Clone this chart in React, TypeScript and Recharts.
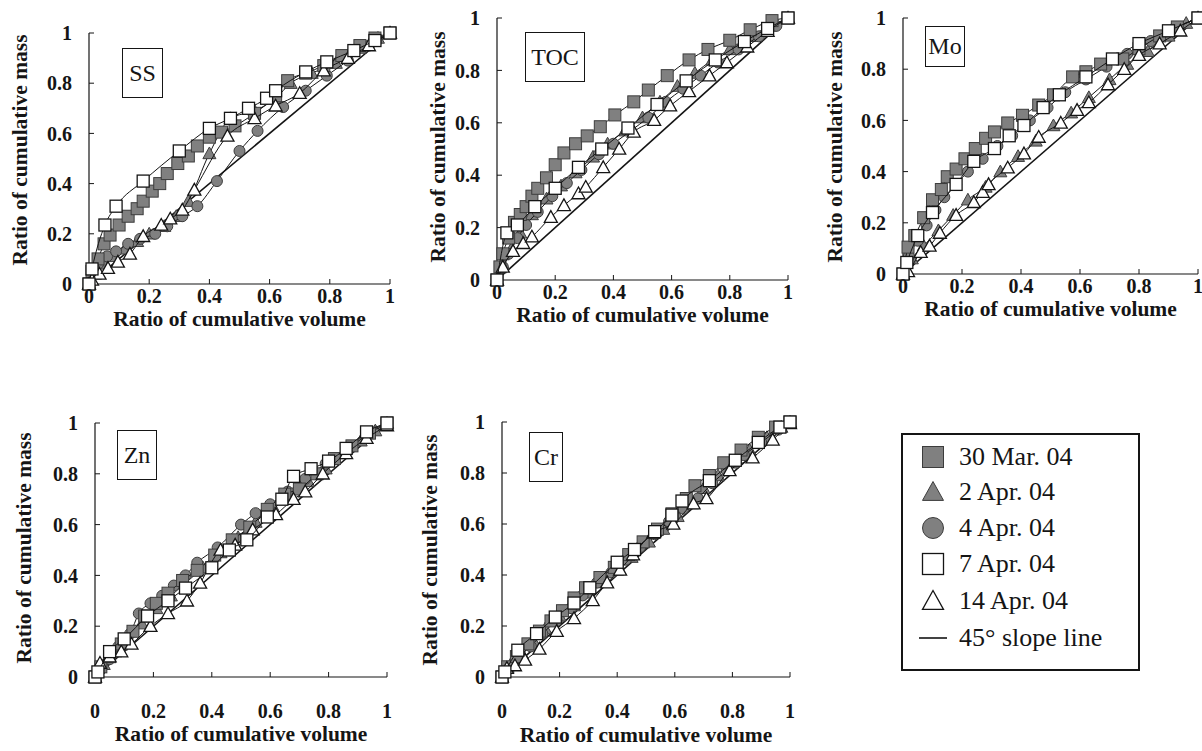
import React from 'react';
import { ScatterChart, Scatter, XAxis, YAxis, ReferenceLine } from 'recharts';

type Pt = [number, number];

const TICKS = [0, 0.2, 0.4, 0.6, 0.8, 1];
const SERIES_NAMES = ['30 Mar. 04', '2 Apr. 04', '4 Apr. 04', '7 Apr. 04', '14 Apr. 04'];
const SLOPE_LINE: Pt[] = [[0, 0], [1, 1]];

// SS
const ssMar30: Pt[] = [[0, 0], [0.01, 0.05], [0.03, 0.1], [0.05, 0.16], [0.07, 0.195], [0.1, 0.235], [0.13, 0.27], [0.16, 0.3], [0.18, 0.33], [0.21, 0.37], [0.235, 0.4], [0.26, 0.44], [0.295, 0.48], [0.33, 0.51], [0.36, 0.55], [0.4, 0.585], [0.44, 0.605], [0.485, 0.63], [0.55, 0.68], [0.62, 0.75], [0.66, 0.81], [0.72, 0.84], [0.78, 0.87], [0.84, 0.91], [0.9, 0.95], [0.95, 0.98], [1, 1]];
const ssApr2: Pt[] = [[0, 0], [0.02, 0.04], [0.05, 0.08], [0.08, 0.11], [0.12, 0.14], [0.16, 0.17], [0.2, 0.2], [0.25, 0.23], [0.29, 0.27], [0.33, 0.33], [0.4, 0.52], [0.47, 0.66], [0.55, 0.69], [0.62, 0.74], [0.67, 0.8], [0.74, 0.84], [0.82, 0.88], [0.9, 0.94], [0.96, 0.98], [1, 1]];
const ssApr4: Pt[] = [[0, 0], [0.01, 0.04], [0.03, 0.08], [0.06, 0.11], [0.09, 0.13], [0.13, 0.16], [0.17, 0.18], [0.22, 0.2], [0.26, 0.23], [0.31, 0.27], [0.36, 0.31], [0.425, 0.41], [0.5, 0.53], [0.56, 0.61], [0.645, 0.705], [0.72, 0.77], [0.79, 0.83], [0.86, 0.89], [0.93, 0.95], [1, 1]];
const ssApr7: Pt[] = [[0, 0], [0.01, 0.06], [0.053, 0.235], [0.09, 0.31], [0.18, 0.41], [0.3, 0.53], [0.4, 0.62], [0.47, 0.66], [0.53, 0.7], [0.59, 0.74], [0.62, 0.77], [0.72, 0.845], [0.79, 0.885], [0.88, 0.93], [0.95, 0.97], [1, 1]];
const ssApr14: Pt[] = [[0, 0], [0.01, 0.016], [0.035, 0.04], [0.063, 0.063], [0.096, 0.088], [0.136, 0.12], [0.18, 0.19], [0.24, 0.235], [0.27, 0.26], [0.31, 0.295], [0.35, 0.375], [0.46, 0.59], [0.55, 0.66], [0.62, 0.71], [0.7, 0.76], [0.78, 0.85], [0.86, 0.9], [0.93, 0.95], [1, 1]];

// TOC
const tocMar30: Pt[] = [[0, 0], [0.01, 0.05], [0.02, 0.1], [0.04, 0.16], [0.06, 0.22], [0.08, 0.25], [0.1, 0.28], [0.12, 0.32], [0.14, 0.35], [0.17, 0.39], [0.2, 0.44], [0.23, 0.485], [0.27, 0.52], [0.31, 0.55], [0.355, 0.585], [0.405, 0.63], [0.47, 0.68], [0.52, 0.725], [0.585, 0.78], [0.66, 0.84], [0.725, 0.88], [0.8, 0.915], [0.87, 0.955], [0.945, 0.99], [1, 1]];
const tocApr2: Pt[] = [[0, 0], [0.02, 0.06], [0.05, 0.12], [0.08, 0.18], [0.12, 0.25], [0.17, 0.31], [0.22, 0.36], [0.27, 0.41], [0.33, 0.47], [0.38, 0.52], [0.44, 0.57], [0.5, 0.62], [0.56, 0.68], [0.62, 0.74], [0.68, 0.79], [0.74, 0.84], [0.8, 0.88], [0.87, 0.93], [0.94, 0.97], [1, 1]];
const tocApr4: Pt[] = [[0, 0], [0.02, 0.05], [0.04, 0.1], [0.07, 0.16], [0.1, 0.21], [0.14, 0.26], [0.19, 0.32], [0.24, 0.37], [0.29, 0.42], [0.35, 0.48], [0.4, 0.52], [0.46, 0.57], [0.52, 0.62], [0.58, 0.68], [0.64, 0.73], [0.7, 0.78], [0.76, 0.83], [0.83, 0.88], [0.9, 0.93], [0.96, 0.97], [1, 1]];
const tocApr7: Pt[] = [[0, 0], [0.034, 0.18], [0.07, 0.21], [0.13, 0.28], [0.2, 0.35], [0.28, 0.43], [0.36, 0.5], [0.45, 0.58], [0.55, 0.67], [0.65, 0.76], [0.75, 0.84], [0.85, 0.91], [0.93, 0.96], [1, 1]];
const tocApr14: Pt[] = [[0, 0], [0.02, 0.05], [0.055, 0.11], [0.09, 0.14], [0.12, 0.165], [0.185, 0.24], [0.23, 0.285], [0.28, 0.33], [0.305, 0.355], [0.365, 0.43], [0.42, 0.5], [0.47, 0.565], [0.54, 0.61], [0.595, 0.665], [0.66, 0.72], [0.73, 0.78], [0.79, 0.83], [0.86, 0.89], [0.93, 0.95], [1, 1]];

// Mo
const moMar30: Pt[] = [[0, 0], [0.017, 0.105], [0.04, 0.15], [0.07, 0.22], [0.1, 0.29], [0.13, 0.33], [0.15, 0.38], [0.18, 0.41], [0.21, 0.45], [0.245, 0.49], [0.28, 0.53], [0.31, 0.555], [0.355, 0.59], [0.405, 0.62], [0.46, 0.66], [0.51, 0.7], [0.575, 0.77], [0.62, 0.79], [0.67, 0.82], [0.745, 0.84], [0.8, 0.88], [0.87, 0.93], [0.93, 0.965], [1, 1]];
const moApr2: Pt[] = [[0, 0], [0.03, 0.06], [0.07, 0.11], [0.12, 0.17], [0.17, 0.23], [0.22, 0.29], [0.28, 0.34], [0.33, 0.4], [0.39, 0.46], [0.45, 0.52], [0.51, 0.58], [0.57, 0.63], [0.63, 0.69], [0.7, 0.76], [0.76, 0.82], [0.83, 0.87], [0.9, 0.93], [0.96, 0.98], [1, 1]];
const moApr4: Pt[] = [[0, 0], [0.02, 0.07], [0.05, 0.13], [0.08, 0.19], [0.11, 0.25], [0.14, 0.3], [0.18, 0.35], [0.22, 0.4], [0.27, 0.45], [0.32, 0.5], [0.37, 0.54], [0.43, 0.6], [0.49, 0.65], [0.55, 0.71], [0.62, 0.76], [0.69, 0.81], [0.76, 0.86], [0.84, 0.91], [0.92, 0.96], [1, 1]];
const moApr7: Pt[] = [[0, 0], [0.013, 0.045], [0.05, 0.15], [0.1, 0.24], [0.18, 0.35], [0.24, 0.44], [0.31, 0.49], [0.36, 0.54], [0.41, 0.58], [0.475, 0.65], [0.53, 0.7], [0.62, 0.77], [0.71, 0.84], [0.8, 0.9], [0.9, 0.95], [1, 1]];
const moApr14: Pt[] = [[0, 0], [0.017, 0.01], [0.06, 0.085], [0.09, 0.11], [0.125, 0.16], [0.18, 0.23], [0.24, 0.28], [0.27, 0.32], [0.29, 0.35], [0.355, 0.415], [0.41, 0.47], [0.46, 0.535], [0.535, 0.59], [0.59, 0.64], [0.63, 0.67], [0.695, 0.74], [0.75, 0.8], [0.8, 0.855], [0.87, 0.9], [0.94, 0.95], [1, 1]];

// Zn
const znMar30: Pt[] = [[0, 0], [0.02, 0.04], [0.05, 0.08], [0.09, 0.13], [0.13, 0.18], [0.17, 0.24], [0.21, 0.29], [0.25, 0.33], [0.3, 0.38], [0.35, 0.42], [0.41, 0.48], [0.47, 0.54], [0.53, 0.59], [0.59, 0.66], [0.65, 0.72], [0.7, 0.74], [0.76, 0.8], [0.82, 0.86], [0.88, 0.91], [0.94, 0.96], [1, 1]];
const znApr2: Pt[] = [[0, 0], [0.03, 0.05], [0.07, 0.1], [0.11, 0.15], [0.16, 0.21], [0.21, 0.27], [0.26, 0.32], [0.31, 0.37], [0.37, 0.43], [0.43, 0.49], [0.49, 0.55], [0.55, 0.61], [0.61, 0.67], [0.67, 0.71], [0.73, 0.77], [0.79, 0.82], [0.85, 0.88], [0.91, 0.93], [0.96, 0.97], [1, 1]];
const znApr4: Pt[] = [[0, 0], [0.02, 0.03], [0.05, 0.07], [0.08, 0.12], [0.12, 0.17], [0.15, 0.25], [0.19, 0.29], [0.23, 0.32], [0.27, 0.36], [0.31, 0.4], [0.35, 0.45], [0.42, 0.51], [0.5, 0.6], [0.55, 0.645], [0.6, 0.68], [0.66, 0.73], [0.72, 0.78], [0.79, 0.84], [0.86, 0.9], [0.93, 0.96], [1, 1]];
const znApr7: Pt[] = [[0, 0], [0.01, 0.02], [0.05, 0.1], [0.1, 0.15], [0.18, 0.24], [0.25, 0.3], [0.31, 0.35], [0.4, 0.43], [0.46, 0.5], [0.52, 0.54], [0.59, 0.63], [0.64, 0.7], [0.68, 0.79], [0.74, 0.82], [0.8, 0.85], [0.86, 0.9], [0.93, 0.965], [1, 1]];
const znApr14: Pt[] = [[0, 0], [0.017, 0.055], [0.05, 0.08], [0.09, 0.1], [0.125, 0.13], [0.19, 0.2], [0.25, 0.25], [0.315, 0.3], [0.36, 0.37], [0.43, 0.5], [0.48, 0.52], [0.54, 0.58], [0.62, 0.64], [0.68, 0.7], [0.72, 0.73], [0.78, 0.8], [0.86, 0.88], [0.93, 0.94], [1, 0.99]];

// Cr
const crMar30: Pt[] = [[0, 0], [0.02, 0.04], [0.05, 0.08], [0.09, 0.13], [0.13, 0.18], [0.17, 0.22], [0.21, 0.26], [0.25, 0.31], [0.29, 0.35], [0.34, 0.39], [0.39, 0.43], [0.44, 0.48], [0.49, 0.53], [0.54, 0.58], [0.59, 0.64], [0.64, 0.7], [0.67, 0.75], [0.72, 0.79], [0.77, 0.84], [0.83, 0.89], [0.89, 0.94], [0.95, 0.98], [1, 1]];
const crApr2: Pt[] = [[0, 0], [0.03, 0.05], [0.07, 0.09], [0.11, 0.14], [0.15, 0.19], [0.2, 0.24], [0.25, 0.28], [0.3, 0.33], [0.35, 0.38], [0.4, 0.42], [0.45, 0.47], [0.51, 0.53], [0.56, 0.58], [0.61, 0.63], [0.66, 0.68], [0.7, 0.74], [0.75, 0.79], [0.8, 0.84], [0.86, 0.89], [0.92, 0.94], [0.97, 0.98], [1, 1]];
const crApr4: Pt[] = [[0, 0], [0.02, 0.03], [0.06, 0.08], [0.1, 0.12], [0.14, 0.17], [0.19, 0.22], [0.24, 0.27], [0.28, 0.32], [0.33, 0.37], [0.38, 0.41], [0.43, 0.46], [0.48, 0.51], [0.53, 0.56], [0.58, 0.61], [0.63, 0.66], [0.68, 0.7], [0.73, 0.76], [0.78, 0.81], [0.84, 0.87], [0.9, 0.92], [0.96, 0.97], [1, 1]];
const crApr7: Pt[] = [[0, 0], [0.01, 0.02], [0.055, 0.105], [0.12, 0.17], [0.185, 0.235], [0.25, 0.29], [0.305, 0.35], [0.4, 0.45], [0.46, 0.5], [0.53, 0.57], [0.59, 0.635], [0.625, 0.69], [0.72, 0.77], [0.81, 0.85], [0.89, 0.92], [0.965, 0.98], [1, 1]];
const crApr14: Pt[] = [[0, 0], [0.017, 0.035], [0.045, 0.045], [0.08, 0.067], [0.13, 0.11], [0.19, 0.18], [0.25, 0.23], [0.315, 0.3], [0.365, 0.37], [0.41, 0.42], [0.455, 0.48], [0.525, 0.565], [0.595, 0.6], [0.665, 0.68], [0.71, 0.7], [0.79, 0.81], [0.87, 0.86], [0.94, 0.93], [1, 0.995]];

const FONT = "'Liberation Serif', 'Times New Roman', serif";
const GREY = '#808080';
const INK = '#151515';

type Kind = 'fsq' | 'ftri' | 'fcir' | 'osq' | 'otri';
const MARKERS: Kind[] = ['fsq', 'ftri', 'fcir', 'osq', 'otri'];
const MARKER_SIZE = [12, 13, 11, 12, 13];
// filled triangles/circles first, open squares on top
const DRAW_ORDER = [1, 2, 0, 4, 3];

type Panel = {
  name: string;
  plot: [number, number, number, number];
  box: [number, number, number, number];
  series: Pt[][];
  xTickGap: number;
  axisH: number;
  xTitleY: number;
  yTitle: [number, number];
};

const PANELS: Panel[] = [
  { name: 'SS', plot: [89, 33, 301, 251], box: [122, 48, 41, 50], series: [ssMar30, ssApr2, ssApr4, ssApr7, ssApr14], xTickGap: 5, axisH: 55, xTitleY: 319, yTitle: [20, 150] },
  { name: 'TOC', plot: [497, 18, 291, 262], box: [525, 32, 60, 50], series: [tocMar30, tocApr2, tocApr4, tocApr7, tocApr14], xTickGap: 5, axisH: 55, xTitleY: 315, yTitle: [438, 147] },
  { name: 'Mo', plot: [903, 18, 295, 256], box: [925, 26, 40, 41], series: [moMar30, moApr2, moApr4, moApr7, moApr14], xTickGap: 5, axisH: 55, xTitleY: 309, yTitle: [835, 147] },
  { name: 'Zn', plot: [95, 423, 292, 254], box: [117, 430, 40, 50], series: [znMar30, znApr2, znApr4, znApr7, znApr14], xTickGap: 27, axisH: 72, xTitleY: 734, yTitle: [24, 548] },
  { name: 'Cr', plot: [502, 422, 288, 255], box: [529, 432, 34, 50], series: [crMar30, crApr2, crApr4, crApr7, crApr14], xTickGap: 27, axisH: 72, xTitleY: 735, yTitle: [430, 550] },
];

function Marker({ kind, cx, cy, s }: { kind: Kind; cx: number; cy: number; s: number }) {
  const h = s / 2;
  const tri = `${cx},${cy - h} ${cx + h},${cy + h * 0.8} ${cx - h},${cy + h * 0.8}`;
  if (kind === 'fsq') return <rect x={cx - h} y={cy - h} width={s} height={s} fill={GREY} stroke="#3c3c3c" strokeWidth={1} />;
  if (kind === 'ftri') return <polygon points={tri} fill={GREY} stroke="#3c3c3c" strokeWidth={1} />;
  if (kind === 'fcir') return <circle cx={cx} cy={cy} r={h} fill={GREY} stroke="#3c3c3c" strokeWidth={1} />;
  if (kind === 'osq') return <rect x={cx - h} y={cy - h} width={s} height={s} fill="#fff" stroke={INK} strokeWidth={1.3} />;
  return <polygon points={tri} fill="#fff" stroke={INK} strokeWidth={1.3} />;
}

const toXY = (pts: Pt[]) => pts.map(([x, y]) => ({ x, y }));

const tickStyle = { fill: INK, fontSize: 20, fontWeight: 700, fontFamily: FONT };
const titleStyle = { fill: INK, fontSize: 21.5, fontWeight: 700, fontFamily: FONT };

// props are named px/py so the x/y that recharts injects into labels are ignored
function XTitle({ px, py }: { px: number; py: number }) {
  return (
    <text x={px} y={py} textAnchor="middle" dominantBaseline="central" style={titleStyle}>
      Ratio of cumulative volume
    </text>
  );
}

function YTitle({ px, py }: { px: number; py: number }) {
  return (
    <text x={px} y={py} transform={`rotate(-90 ${px} ${py})`} textAnchor="middle" dominantBaseline="central" style={titleStyle}>
      Ratio of cumulative mass
    </text>
  );
}

const YW = 85;
const TOP = 15;

function PanelChart({ p }: { p: Panel }) {
  const [pl, pt, pw, ph] = p.plot;
  const right = Math.min(12, 1202 - (pl + pw));
  const chartL = pl - YW;
  const chartT = pt - TOP;
  const [bx, by, bw, bh] = p.box;
  return (
    <>
      <div style={{ position: 'absolute', left: chartL, top: chartT }}>
        <ScatterChart width={YW + pw + right} height={TOP + ph + p.axisH} margin={{ top: TOP, right, bottom: 0, left: 0 }}>
          <XAxis
            type="number"
            dataKey="x"
            domain={[0, 1]}
            ticks={TICKS}
            interval={0}
            height={p.axisH}
            tickSize={-5}
            tickMargin={p.xTickGap + 5}
            tick={tickStyle}
            axisLine={{ stroke: INK, strokeWidth: 1.2 }}
            tickLine={{ stroke: INK }}
            label={<XTitle px={YW + pw / 2} py={p.xTitleY - chartT} />}
          />
          <YAxis
            type="number"
            dataKey="y"
            domain={[0, 1]}
            ticks={TICKS}
            interval={0}
            width={YW}
            tickSize={-5}
            tickMargin={22}
            tick={tickStyle}
            axisLine={{ stroke: INK, strokeWidth: 1.2 }}
            tickLine={{ stroke: INK }}
            label={<YTitle px={p.yTitle[0] - chartL} py={p.yTitle[1] - chartT} />}
          />
          <ReferenceLine
            segment={SLOPE_LINE.map(([x, y]) => ({ x, y }))}
            stroke={INK}
            strokeWidth={1.6}
            ifOverflow="visible"
          />
          {DRAW_ORDER.map((i) => (
            <Scatter
              key={SERIES_NAMES[i]}
              name={SERIES_NAMES[i]}
              data={toXY(p.series[i])}
              isAnimationActive={false}
              line={{ stroke: INK, strokeWidth: 1 }}
              lineJointType="monotoneX"
              shape={(s: any) => <Marker kind={MARKERS[i]} cx={s.cx} cy={s.cy} s={MARKER_SIZE[i]} />}
            />
          ))}
        </ScatterChart>
      </div>
      <div
        style={{
          position: 'absolute',
          left: bx,
          top: by,
          width: bw,
          height: bh,
          boxSizing: 'border-box',
          border: `1px solid ${INK}`,
          background: '#fff',
          display: 'flex',
          alignItems: 'center',
          justifyContent: 'center',
          fontFamily: FONT,
          fontSize: 24,
          color: INK,
        }}
      >
        {p.name}
      </div>
    </>
  );
}

const LEGEND_ROWS = [456, 491, 527, 563, 600, 637];

function LegendBox() {
  const left = 901;
  const top = 433;
  return (
    <div
      style={{
        position: 'absolute',
        left,
        top,
        width: 239,
        height: 238,
        boxSizing: 'border-box',
        border: `2px solid ${INK}`,
        fontFamily: FONT,
        fontSize: 26,
        color: INK,
      }}
    >
      {[...SERIES_NAMES, '45° slope line'].map((label, i) => (
        <div
          key={label}
          style={{ position: 'absolute', left: 14, top: LEGEND_ROWS[i] - top - 17, height: 32, display: 'flex', alignItems: 'center' }}
        >
          <svg width={32} height={32} style={{ display: 'block' }}>
            {i < 5 ? (
              <Marker kind={MARKERS[i]} cx={16} cy={16} s={21} />
            ) : (
              <line x1={2} y1={16} x2={30} y2={16} stroke={INK} strokeWidth={1.6} />
            )}
          </svg>
          <span style={{ marginLeft: 10, whiteSpace: 'nowrap' }}>{label}</span>
        </div>
      ))}
    </div>
  );
}

export default function App() {
  return (
    <div style={{ position: 'absolute', left: 0, top: 0, width: 1202, height: 751, overflow: 'hidden', background: '#fff' }}>
      {PANELS.map((p) => (
        <PanelChart key={p.name} p={p} />
      ))}
      <LegendBox />
    </div>
  );
}
